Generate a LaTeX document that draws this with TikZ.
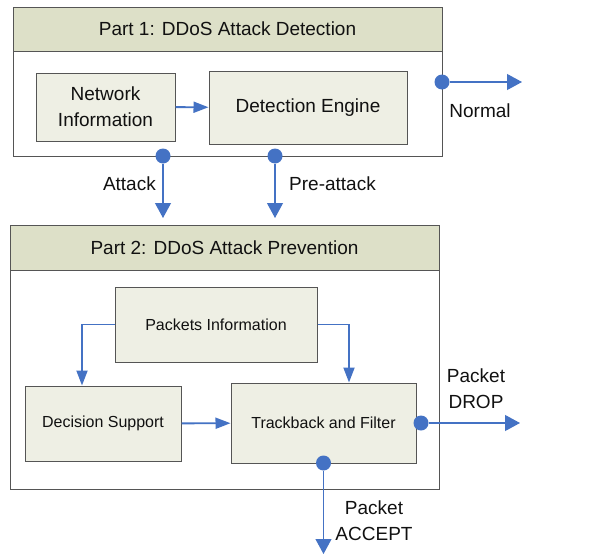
\documentclass[tikz,border=0pt]{standalone}
\usepackage{fontspec}
\setmainfont{Liberation Sans}
\usetikzlibrary{arrows.meta}
\definecolor{headfill}{HTML}{DDE0C8}
\definecolor{boxfill}{HTML}{EEEFE4}
\definecolor{flowblue}{HTML}{4472C4}
\definecolor{framegray}{HTML}{555555}
\definecolor{textgray}{HTML}{111111}

\begin{document}
\begin{tikzpicture}[x=1pt,y=-1pt,
      partframe/.style={rectangle, draw=framegray, fill=white, line width=1pt},
      parthead/.style={rectangle, draw=framegray, fill=headfill, line width=1pt,
        text=textgray, font=\fontsize{19}{26}\selectfont},
      bigbox/.style={rectangle, draw=framegray, fill=boxfill, line width=1pt,
        text=textgray, align=center, font=\fontsize{19}{26}\selectfont},
      smallbox/.style={rectangle, draw=framegray, fill=boxfill, line width=1pt,
        text=textgray, align=center, font=\fontsize{16}{20}\selectfont},
      flowdot/.style={circle, fill=flowblue, minimum size=15pt, inner sep=0pt},
      flowlabel/.style={text=textgray, align=center, inner sep=0pt,
        font=\fontsize{19}{26}\selectfont},
      innerflow/.style={draw=flowblue, line width=1.9pt,
        -{Triangle[length=15pt,width=11pt]}},
      outflow/.style={draw=flowblue, line width=1.1pt,
        -{Triangle[length=15pt,width=16pt]}}]

    \useasboundingbox (0,0) rectangle (596,554);

    % Part 1
    \node[partframe, minimum width=429pt, minimum height=149pt] (p1) at (227.5,81.5) {};
    \node[parthead, minimum width=429pt, minimum height=44pt] (p1head) at (227.5,29)
      {Part 1: DDoS Attack Detection};
    \node[bigbox, minimum width=139pt, minimum height=68pt] (ni) at (105.5,107)
      {Network\\Information};
    \node[bigbox, minimum width=198pt, minimum height=73pt] (de) at (308,107.5)
      {Detection Engine};

    % Part 2
    \node[partframe, minimum width=429pt, minimum height=264pt] (p2) at (224.5,357) {};
    \node[parthead, minimum width=429pt, minimum height=45pt] (p2head) at (224.5,247.5)
      {Part 2: DDoS Attack Prevention};
    \node[smallbox, minimum width=202pt, minimum height=75pt] (pi) at (216,324.5)
      {Packets Information};
    \node[smallbox, minimum width=156pt, minimum height=75pt] (ds) at (103,423.5)
      {Decision Support};
    \node[smallbox, minimum width=185pt, minimum height=80pt] (tf) at (323.5,423)
      {Trackback and Filter};

    % output dots
    \node[flowdot] (normal) at (442,82) {};
    \node[flowdot] (attack) at (163,156) {};
    \node[flowdot] (preattack) at (275,156) {};
    \node[flowdot] (drop) at (421,423) {};
    \node[flowdot] (accept) at (323.5,463) {};

    \coordinate (normalend) at (522,82);
    \coordinate (attackend) at (163,218);
    \coordinate (preattackend) at (275,218);
    \coordinate (dropend) at (520,423);
    \coordinate (acceptend) at (323.5,554);

    \draw[innerflow] (ni) -- (de);
    \draw[innerflow] (ds) -- (tf);
    \draw[innerflow] (pi.west) -| ([xshift=-21pt]ds.north);
    \draw[innerflow] (pi.east) -| ([xshift=25.5pt]tf.north);

    \draw[outflow] (normal) -- (normalend);
    \draw[outflow] (attack) -- (attackend);
    \draw[outflow] (preattack) -- (preattackend);
    \draw[outflow] (drop) -- (dropend);
    \draw[outflow] (accept) -- (acceptend);

    \node[flowlabel] (normallbl) at (480,111) {Normal};
    \node[flowlabel, anchor=east] (attacklbl) at (156,184) {Attack};
    \node[flowlabel, anchor=west] (preattacklbl) at (289,184) {Pre-attack};
    \node[flowlabel] (droplbl) at (476,389) {Packet\\DROP};
    \node[flowlabel] (acceptlbl) at (374,521) {Packet\\ACCEPT};

  \end{tikzpicture}
\end{document}
